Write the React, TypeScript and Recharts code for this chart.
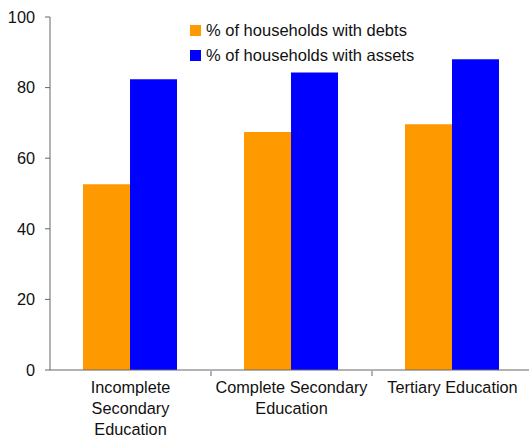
import { BarChart, Bar, XAxis, YAxis } from "recharts";

const categories = [
  "Incomplete\nSecondary\nEducation",
  "Complete Secondary\nEducation",
  "Tertiary Education",
];
const debts = [52.6, 67.4, 69.6];
const assets = [82.4, 84.3, 88.0];
const yTicks = [0, 20, 40, 60, 80, 100];

const seriesNames = ["% of households with debts", "% of households with assets"];
const seriesColors = ["#ff9900", "#0000ff"];

const data = categories.map((c, i) => ({
  category: c,
  debts: debts[i],
  assets: assets[i],
}));

const FONT = "'Liberation Sans', Arial, sans-serif";

function CategoryTick(props: any) {
  const { x, y, payload, index, width, visibleTicksCount } = props;
  const band = width / (visibleTicksCount || 3);
  const lines = String(payload.value).split("\n");
  return (
    <g>
      {index > 0 && (
        <line x1={x - band / 2} x2={x - band / 2} y1={y - 7} y2={y - 2} stroke="#666" />
      )}
      <text x={x} y={y + 15} textAnchor="middle" fontSize={16.3} fill="#111" fontFamily={FONT}>
        {lines.map((l, i) => (
          <tspan key={i} x={x} dy={i === 0 ? 0 : 21}>
            {l}
          </tspan>
        ))}
      </text>
    </g>
  );
}

function LegendBox() {
  return (
    <div style={{ fontFamily: FONT, fontSize: 16.5, color: "#111" }}>
      {seriesNames.map((n, i) => (
        <div key={n} style={{ display: "flex", alignItems: "center", height: 25 }}>
          <span
            style={{ width: 11, height: 11, background: seriesColors[i], marginRight: 5, display: "inline-block" }}
          />
          <span>{n}</span>
        </div>
      ))}
    </div>
  );
}

export default function App() {
  return (
    <div style={{ position: "absolute", left: 0, top: 0, width: 529, height: 438, overflow: "hidden", background: "#fff" }}>
      <div style={{ position: "relative", width: 533, height: 438 }}>
        <BarChart
          width={533}
          height={438}
          data={data}
          margin={{ top: 17, right: 0, left: 0, bottom: 0 }}
          barCategoryGap="20.5%"
          barGap={0}
        >
          <XAxis
            dataKey="category"
            height={68}
            interval={0}
            stroke="#666"
            tickLine={false}
            tick={<CategoryTick />}
          />
          <YAxis
            width={50}
            domain={[0, 100]}
            ticks={yTicks}
            stroke="#666"
            tickSize={5}
            tickMargin={10}
            tick={{ fontSize: 16.3, fill: "#111", fontFamily: FONT }}
          />
          <Bar dataKey="debts" fill={seriesColors[0]} isAnimationActive={false} />
          <Bar dataKey="assets" fill={seriesColors[1]} isAnimationActive={false} />
        </BarChart>
        <div style={{ position: "absolute", left: 190, top: 18 }}>
          <LegendBox />
        </div>
      </div>
    </div>
  );
}
